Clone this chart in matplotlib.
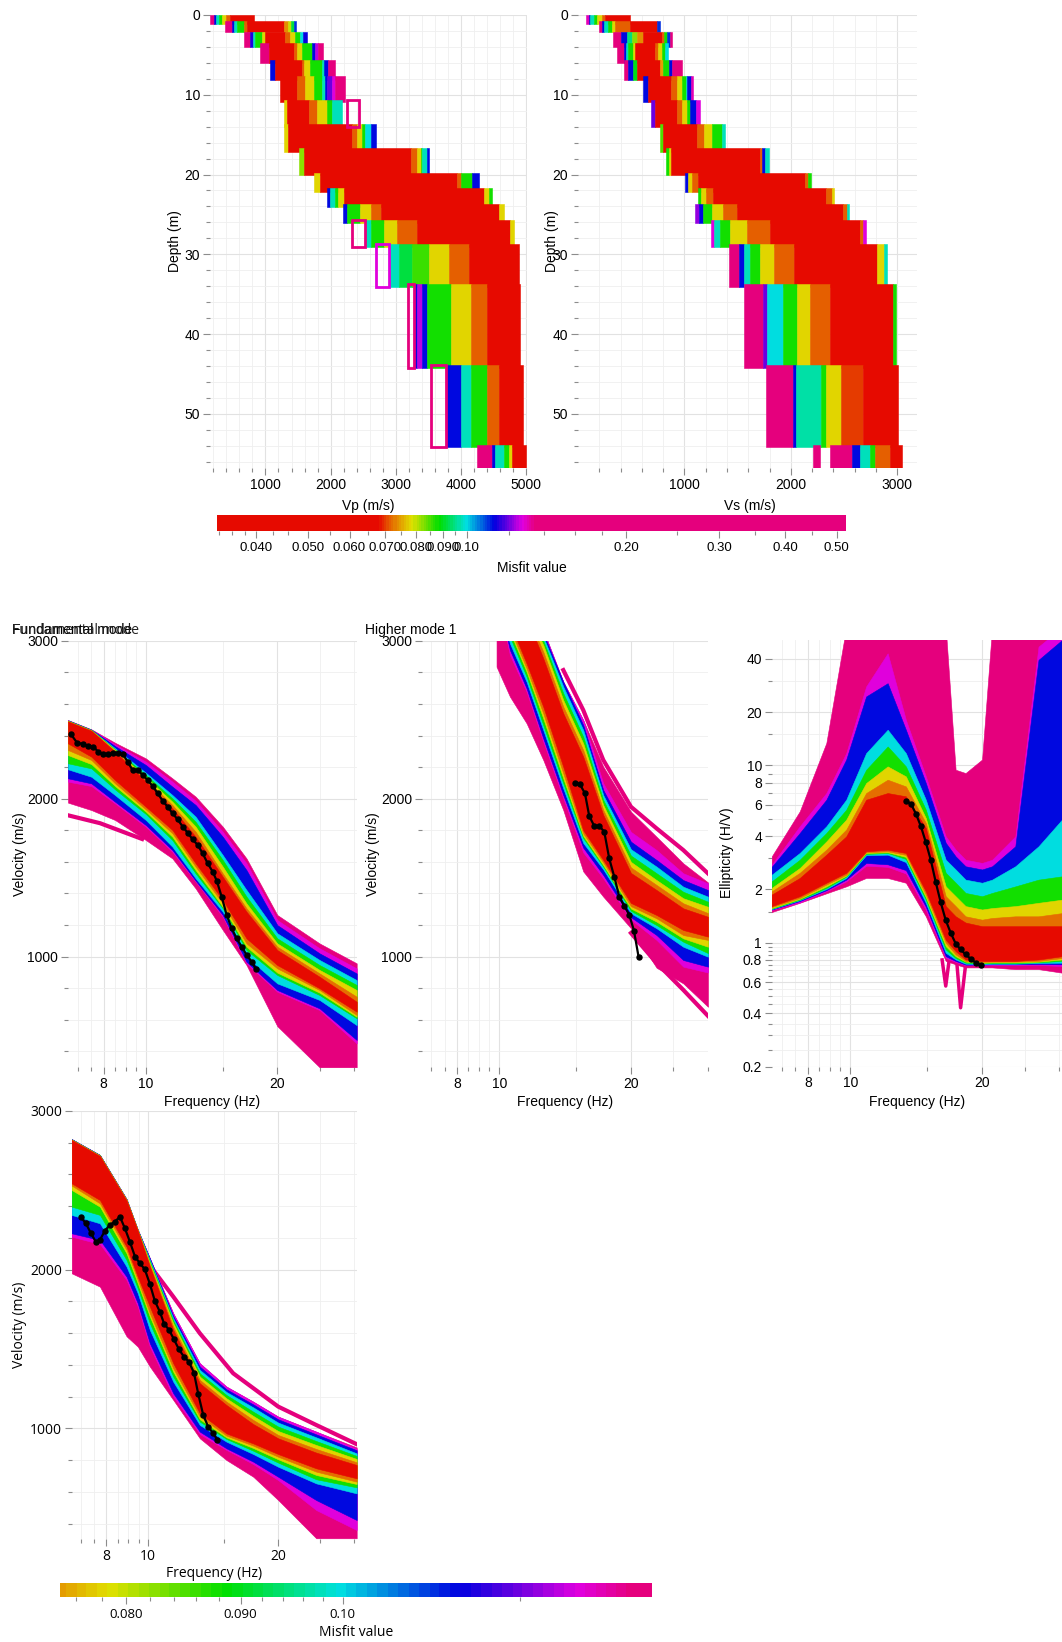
import numpy as np
import matplotlib
matplotlib.use('Agg')
import matplotlib.pyplot as plt
from matplotlib.colors import LinearSegmentedColormap, LogNorm
from matplotlib.patches import Rectangle
from matplotlib.ticker import FixedLocator, FixedFormatter, NullFormatter

plt.rcParams['font.family'] = ['Liberation Sans', 'DejaVu Sans']

W, H = 1062, 1642

# misfit palette (misfit value -> colour)
pal_misfit = [0.0337, 0.068, 0.0712, 0.0745, 0.0785, 0.0885, 0.0995, 0.1127, 0.1200, 0.1273, 0.1346, 0.521]
pal_colors = ['#e60a00', '#e60a00', '#e55a00', '#e49a00', '#e0e000', '#00df00', '#00e0e0',
              '#0000e0', '#7000e0', '#e000e0', '#e5007d', '#e5007d']

# misfit of each colour band in the dispersion / ellipticity panels (drawn worst first)
band_misfit = [0.30, 0.127, 0.1127, 0.0995, 0.088, 0.078, 0.0725, 0.05]

# ---- layered profiles (depth in m, velocities in m/s) ----
layer_top = [0.0, 0.7, 2.1, 3.55, 5.64, 7.64, 10.65, 13.66, 16.71, 19.76, 21.72, 23.68, 25.69, 28.74, 33.71, 43.86, 53.89]
layer_bot = [1.13, 2.09, 4.05, 6.06, 8.14, 10.86, 14.0, 17.13, 20.05, 22.14, 24.02, 26.02, 29.11, 34.13, 44.2, 54.22, 56.81]

vp_edges = [
    [156, 207, 243, 284, 335, 401, 463, 831],
    [386, 488, 524, 565, 667, 718, 1281, 1342, 1394, 1434, 1470],
    [667, 769, 810, 846, 949, 1000, 1307, 1383, 1460, 1537, 1578, 1639],
    [923, 1051, 1434, 1486, 1562, 1716, 1767, 1802, 1880],
    [1077, 1153, 1562, 1598, 1690, 1869, 1895, 1957, 2064],
    [1230, 1486, 1614, 1741, 1869, 1920, 1946, 2023, 2074, 2227],
    [1281, 1332, 1665, 1792, 1946, 2023, 2176],
    [1290, 1347, 2330, 2406, 2483, 2534, 2611, 2688],
    [1511, 1588, 3224, 3326, 3378, 3403, 3480, 3505],
    [1741, 1843, 3940, 3991, 4170, 4272],
    [1946, 1997, 2074, 2110, 2202, 4348, 4425, 4476],
    [2191, 2253, 2457, 2611, 2764, 4578, 4655],
    [2534, 2611, 2816, 3020, 3326, 4757, 4808],
    [2893, 3046, 3250, 3505, 3812, 4119, 4886],
    [3276, 3330, 3400, 3480, 3838, 4144, 4400, 4901],
    [3772, 4000, 4144, 4400, 4578, 4952],
    [4246, 4476, 4527, 4655, 4731, 4783, 4997],
]
vp_misfit = [
    [0.3, 0.112, 0.098, 0.088, 0.078, 0.072, 0.05],
    [0.3, 0.112, 0.098, 0.088, 0.072, 0.05, 0.074, 0.08, 0.092, 0.11],
    [0.3, 0.115, 0.098, 0.088, 0.078, 0.05, 0.072, 0.078, 0.088, 0.1, 0.113],
    [0.3, 0.05, 0.072, 0.078, 0.088, 0.112, 0.125, 0.3],
    [0.112, 0.05, 0.072, 0.078, 0.088, 0.098, 0.112, 0.3],
    [0.05, 0.072, 0.078, 0.088, 0.098, 0.112, 0.12, 0.128, 0.3],
    [0.078, 0.05, 0.072, 0.078, 0.088, 0.098],
    [0.078, 0.05, 0.072, 0.078, 0.088, 0.1, 0.112],
    [0.082, 0.05, 0.072, 0.078, 0.088, 0.098, 0.112],
    [0.078, 0.05, 0.072, 0.088, 0.112],
    [0.112, 0.098, 0.088, 0.078, 0.05, 0.078, 0.088],
    [0.112, 0.088, 0.078, 0.072, 0.05, 0.078],
    [0.098, 0.088, 0.078, 0.072, 0.05, 0.078],
    [0.098, 0.092, 0.086, 0.078, 0.072, 0.05],
    [0.112, 0.125, 0.112, 0.088, 0.078, 0.072, 0.05],
    [0.112, 0.098, 0.088, 0.072, 0.05],
    [0.3, 0.112, 0.098, 0.088, 0.078, 0.05],
]
# single high-misfit Vp profiles that show as open boxes
vp_box_top = [10.65, 25.69, 28.74, 33.71, 43.86]
vp_box_bot = [14.0, 29.11, 34.13, 44.2, 54.22]
vp_box_left = [2253, 2330, 2688, 3184, 3531]
vp_box_right = [2432, 2534, 2893, 3276, 3772]
vp_box_misfit = [0.3, 0.3, 0.128, 0.3, 0.3]

vs_edges = [
    [77, 99, 115, 146, 178, 225, 256, 491],
    [193, 225, 247, 278, 318, 350, 491, 741, 766],
    [331, 400, 457, 504, 551, 613, 786, 808, 833, 864, 880],
    [364, 436, 450, 473, 520, 536, 724, 755, 786, 818, 849],
    [436, 473, 520, 551, 770, 802, 855, 880, 980],
    [614, 658, 871, 933, 980, 1012, 1027, 1058, 1080],
    [689, 720, 933, 980, 1027, 1052, 1105, 1146],
    [767, 798, 1117, 1180, 1258, 1352, 1377],
    [829, 852, 876, 1707, 1729, 1754, 1795],
    [1005, 1030, 1067, 1130, 2132, 2163, 2188],
    [1123, 1155, 1202, 1264, 2328, 2391, 2406],
    [1101, 1133, 1173, 1258, 1367, 1492, 2494, 2525, 2550],
    [1252, 1274, 1336, 1430, 1587, 1806, 2651, 2682, 2707],
    [1415, 1509, 1556, 1619, 1713, 1838, 2026, 2808, 2871, 2902],
    [1564, 1742, 1780, 1930, 2055, 2180, 2368, 2962, 2984],
    [1764, 2021, 2052, 2287, 2334, 2475, 2678, 3007],
    [2207, 2270, 2364, 2573, 2652, 2746, 2793, 2934, 3043],
]
vs_misfit = [
    [0.13, 0.112, 0.098, 0.088, 0.078, 0.072, 0.05],
    [0.3, 0.112, 0.098, 0.088, 0.078, 0.072, 0.05, 0.11],
    [0.3, 0.112, 0.095, 0.082, 0.074, 0.05, 0.072, 0.088, 0.11, 0.3],
    [0.3, 0.112, 0.098, 0.088, 0.078, 0.05, 0.072, 0.078, 0.088, 0.1],
    [0.3, 0.112, 0.09, 0.05, 0.075, 0.088, 0.112, 0.3],
    [0.112, 0.05, 0.072, 0.078, 0.088, 0.098, 0.112, 0.13],
    [0.12, 0.05, 0.072, 0.078, 0.088, 0.112, 0.128],
    [0.085, 0.05, 0.072, 0.078, 0.088, 0.098],
    [0.088, 0.078, 0.05, 0.072, 0.112, 0.098],
    [0.112, 0.078, 0.072, 0.05, 0.072, 0.088],
    [0.088, 0.078, 0.072, 0.05, 0.072, 0.078],
    [0.122, 0.112, 0.088, 0.078, 0.072, 0.05, 0.072, 0.098],
    [0.128, 0.098, 0.088, 0.078, 0.072, 0.05, 0.072, 0.128],
    [0.3, 0.112, 0.098, 0.088, 0.078, 0.072, 0.05, 0.078, 0.098],
    [0.3, 0.12, 0.1, 0.088, 0.078, 0.072, 0.05, 0.088],
    [0.3, 0.112, 0.097, 0.088, 0.078, 0.07, 0.05],
    [0.3, np.nan, 0.3, 0.112, 0.098, 0.088, 0.072, 0.05],
]

# ---- fundamental mode (Hz, m/s) ----
fm_freq = [6.63, 7.5, 8.5, 10, 11.5, 13, 15, 17, 20, 25, 30.4]
fm_upper = [
    [2498, 2439, 2354, 2255, 2129, 2013, 1823, 1622, 1264, 1084, 958],
    [2496, 2437, 2344, 2234, 2108, 1987, 1791, 1591, 1232, 1053, 926],
    [2496, 2437, 2333, 2213, 2076, 1960, 1759, 1548, 1200, 1021, 894],
    [2494, 2435, 2319, 2164, 2023, 1886, 1643, 1422, 1148, 979, 852],
    [2494, 2435, 2312, 2150, 2002, 1854, 1612, 1380, 1116, 947, 821],
    [2491, 2432, 2308, 2135, 1981, 1823, 1570, 1337, 1084, 916, 789],
    [2491, 2432, 2302, 2122, 1960, 1791, 1527, 1306, 1063, 894, 747],
    [2489, 2430, 2297, 2108, 1939, 1759, 1506, 1285, 1042, 873, 715],
]
fm_lower = [
    [1975, 1928, 1865, 1738, 1622, 1432, 1169, 947, 560, 300, 300],
    [2108, 2080, 1970, 1822, 1664, 1475, 1253, 958, 778, 662, 451],
    [2129, 2097, 1981, 1833, 1675, 1481, 1264, 968, 789, 673, 473],
    [2186, 2139, 2023, 1865, 1696, 1496, 1285, 1000, 831, 726, 567],
    [2224, 2192, 2059, 1903, 1738, 1527, 1306, 1042, 884, 757, 610],
    [2276, 2219, 2080, 1918, 1759, 1548, 1316, 1063, 899, 772, 620],
    [2308, 2245, 2097, 1932, 1781, 1570, 1337, 1084, 926, 789, 631],
    [2350, 2266, 2118, 1949, 1802, 1591, 1359, 1116, 947, 800, 652],
]
fm_out_f = [6.63, 7.85, 9.8]
fm_out_v = [1895, 1845, 1745]
fm_obs_f = [6.73, 6.95, 7.18, 7.38, 7.57, 7.78, 7.98, 8.20, 8.42, 8.64, 8.85, 9.08, 9.32, 9.57, 9.83,
            10.09, 10.36, 10.64, 10.92, 11.21, 11.51, 11.82, 12.14, 12.46, 12.79, 13.14, 13.49,
            13.85, 14.22, 14.53, 14.91, 15.31, 15.72, 16.14, 16.57, 17.02, 17.47, 17.88]
fm_obs_v = [2409, 2355, 2346, 2333, 2329, 2297, 2283, 2281, 2287, 2287, 2283, 2234, 2181, 2181, 2150,
            2118, 2080, 2034, 1987, 1949, 1907, 1869, 1823, 1785, 1743, 1707, 1654,
            1591, 1538, 1481, 1380, 1264, 1179, 1116, 1063, 1010, 968, 920]

# ---- higher mode 1 ----
h1_freq = [9.86, 10.58, 11.55, 12.61, 14.01, 15.56, 17.29, 20.0, 22.89, 26.34, 30.0]
h1_upper = [
    [3300, 3300, 3270, 3067, 2740, 2498, 2203, 1918, 1759, 1591, 1470],
    [3300, 3300, 3260, 3067, 2740, 2498, 2097, 1790, 1675, 1528, 1464],
    [3300, 3300, 3250, 3046, 2740, 2466, 2055, 1728, 1612, 1485, 1422],
    [3300, 3300, 3230, 3025, 2709, 2435, 2023, 1680, 1570, 1443, 1380],
    [3300, 3300, 3210, 3000, 2667, 2392, 1992, 1640, 1528, 1411, 1348],
    [3300, 3300, 3190, 2973, 2624, 2350, 1960, 1600, 1485, 1370, 1316],
    [3300, 3300, 3170, 2930, 2582, 2308, 1928, 1565, 1454, 1338, 1276],
    [3300, 3300, 3150, 2888, 2540, 2266, 1897, 1530, 1422, 1306, 1253],
]
h1_lower = [
    [2835, 2646, 2477, 2245, 1928, 1540, 1380, 1180, 930, 831, 683],
    [3300, 2909, 2677, 2361, 2002, 1660, 1496, 1235, 1106, 937, 900],
    [3300, 2941, 2698, 2382, 2023, 1690, 1517, 1250, 1137, 979, 937],
    [3300, 2983, 2740, 2435, 2065, 1720, 1553, 1275, 1180, 1063, 1000],
    [3300, 3025, 2772, 2466, 2097, 1750, 1570, 1290, 1200, 1095, 1023],
    [3300, 3057, 2804, 2508, 2129, 1765, 1580, 1305, 1222, 1116, 1063],
    [3300, 3078, 2825, 2540, 2160, 1780, 1596, 1320, 1243, 1137, 1106],
    [3300, 3110, 2856, 2582, 2202, 1800, 1612, 1340, 1264, 1169, 1127],
]
h1_out_f = [14.01, 15.56, 17.29, 20.0, 22.89, 26.34, 30.0]
h1_out_v = [2814, 2561, 2245, 1949, 1812, 1675, 1527]
h1_out2_f = [20.0, 22.89, 26.34, 30.0]
h1_out2_v = [1150, 960, 790, 625]
h1_obs_f = [14.90, 15.29, 15.70, 16.06, 16.49, 16.93, 17.38, 17.84, 18.32, 18.81, 19.31, 19.83, 20.32, 20.83]
h1_obs_v = [2097, 2091, 2034, 1890, 1827, 1827, 1791, 1622, 1506, 1380, 1321, 1264, 1165, 996]

# ---- ellipticity (H/V) ----
el_freq = [6.62, 7.67, 8.82, 9.79, 10.87, 12.17, 13.39, 14.87, 16.51, 17.39, 18.32, 19.98, 21.06, 23.79, 26.87, 30.4]
el_upper = [
    [3.07, 5.51, 13.4, 60, 60, 60, 60, 60, 60, 9.46, 9.06, 10.8, 60, 60, 60, 60],
    [2.76, 4.54, 6.99, 11.74, 27.9, 42.9, 18.1, 8.68, 3.98, 3.35, 2.94, 2.82, 2.94, 3.98, 46.8, 60],
    [2.68, 4.16, 6.41, 10.8, 24.5, 29.1, 15.9, 7.96, 3.66, 3.07, 2.70, 2.59, 2.70, 3.50, 39.4, 51],
    [2.42, 3.21, 4.54, 6.41, 11.74, 15.9, 11.74, 6.41, 2.94, 2.59, 2.27, 2.18, 2.27, 2.70, 3.50, 4.95],
    [2.22, 2.94, 4.16, 5.63, 9.46, 12.8, 9.88, 5.63, 2.48, 2.18, 1.91, 1.83, 1.91, 2.08, 2.27, 2.37],
    [2.04, 2.64, 3.73, 4.95, 7.96, 9.88, 8.68, 5.05, 2.08, 1.83, 1.61, 1.54, 1.57, 1.61, 1.68, 1.75],
    [1.95, 2.48, 3.35, 4.35, 6.99, 8.31, 7.62, 4.74, 1.83, 1.61, 1.41, 1.35, 1.38, 1.41, 1.41, 1.47],
    [1.87, 2.32, 3.14, 3.98, 6.41, 6.99, 6.70, 4.44, 1.61, 1.41, 1.30, 1.24, 1.24, 1.24, 1.24, 1.24],
]
el_lower = [
    [1.49, 1.68, 1.90, 2.08, 2.32, 2.32, 2.18, 1.41, 0.79, 0.756, 0.726, 0.726, 0.726, 0.71, 0.71, 0.678],
    [1.53, 1.69, 1.95, 2.22, 2.72, 2.68, 2.46, 1.53, 0.82, 0.78, 0.747, 0.747, 0.747, 0.747, 0.75, 0.739],
    [1.54, 1.72, 1.98, 2.27, 2.82, 2.77, 2.57, 1.60, 0.84, 0.79, 0.753, 0.753, 0.756, 0.756, 0.759, 0.756],
    [1.55, 1.74, 2.01, 2.32, 3.12, 3.14, 2.85, 1.68, 0.878, 0.805, 0.762, 0.759, 0.762, 0.762, 0.769, 0.772],
    [1.56, 1.75, 2.04, 2.36, 3.17, 3.21, 2.97, 1.75, 0.917, 0.82, 0.772, 0.766, 0.769, 0.769, 0.776, 0.79],
    [1.57, 1.77, 2.08, 2.39, 3.21, 3.24, 3.05, 1.81, 0.957, 0.84, 0.783, 0.772, 0.776, 0.776, 0.783, 0.805],
    [1.59, 1.79, 2.13, 2.42, 3.24, 3.28, 3.13, 1.87, 1.00, 0.86, 0.79, 0.78, 0.783, 0.783, 0.79, 0.82],
    [1.61, 1.83, 2.18, 2.48, 3.28, 3.35, 3.21, 1.95, 1.04, 0.897, 0.805, 0.79, 0.79, 0.79, 0.805, 0.84],
]
el_spike1_f = [16.2, 16.51, 16.8]
el_spike1_e = [0.80, 0.57, 0.79]
el_spike2_f = [17.5, 17.85, 18.3]
el_spike2_e = [0.77, 0.43, 0.73]
el_obs_f = [13.39, 13.75, 14.11, 14.49, 14.87, 15.27, 15.67, 16.08, 16.51, 16.94, 17.39, 17.85, 18.32, 18.81, 19.31, 19.82]
el_obs_e = [6.27, 6.09, 5.35, 4.54, 3.69, 2.92, 2.19, 1.69, 1.34, 1.14, 0.99, 0.917, 0.86, 0.812, 0.772, 0.745]

# ---- lower-left dispersion panel ----
l4_freq = [6.65, 7.73, 8.91, 9.46, 10.09, 11.43, 13.17, 15.18, 17.51, 20.0, 24.5, 30.4]
l4_upper = [
    [2823, 2723, 2445, 2252, 2071, 1725, 1410, 1263, 1168, 1074, 979, 880],
    [2823, 2723, 2445, 2252, 2071, 1725, 1410, 1263, 1168, 1074, 979, 872],
    [2823, 2723, 2445, 2252, 2071, 1708, 1389, 1246, 1151, 1057, 962, 862],
    [2821, 2721, 2442, 2250, 2061, 1693, 1368, 1229, 1132, 1036, 943, 842],
    [2821, 2721, 2442, 2250, 2050, 1679, 1347, 1210, 1105, 1011, 920, 826],
    [2819, 2719, 2440, 2248, 2040, 1662, 1326, 1189, 1078, 983, 895, 807],
    [2819, 2719, 2440, 2248, 2029, 1641, 1305, 1168, 1053, 958, 870, 786],
    [2817, 2716, 2436, 2245, 2019, 1620, 1284, 1147, 1027, 937, 847, 769],
]
l4_lower = [
    [1977, 1893, 1580, 1515, 1389, 1179, 937, 800, 695, 548, 307, 307],
    [2208, 2162, 1935, 1767, 1515, 1200, 964, 864, 775, 674, 485, 359],
    [2229, 2187, 1956, 1788, 1536, 1221, 979, 874, 790, 695, 548, 422],
    [2345, 2292, 2019, 1851, 1620, 1294, 1021, 916, 838, 758, 653, 590],
    [2397, 2345, 2061, 1882, 1662, 1326, 1042, 933, 859, 784, 679, 628],
    [2502, 2397, 2103, 1914, 1704, 1357, 1057, 943, 876, 805, 706, 649],
    [2530, 2418, 2124, 1935, 1725, 1378, 1074, 954, 891, 821, 727, 664],
    [2544, 2439, 2145, 1956, 1767, 1410, 1095, 968, 905, 838, 748, 685],
]
l4_out_f = [10.27, 11.43, 13.17, 15.73, 20.0, 24.5, 30.4]
l4_out_v = [1998, 1830, 1599, 1347, 1137, 1021, 900]
l4_obs_f = [6.99, 7.17, 7.37, 7.56, 7.73, 7.94, 8.15, 8.37, 8.60, 8.83, 9.07, 9.32, 9.57, 9.82, 10.09,
            10.36, 10.64, 10.89, 11.18, 11.47, 11.78, 12.09, 12.42, 12.76, 13.06, 13.41, 13.77, 14.14, 14.47]
l4_obs_v = [2330, 2292, 2229, 2176, 2187, 2246, 2282, 2302, 2334, 2261, 2176, 2082, 2040, 2002, 1910,
            1803, 1735, 1658, 1620, 1561, 1498, 1452, 1420, 1351, 1216, 1084, 1010, 968, 927]

# colour bar ticks
cb_top_ticks = [0.04, 0.05, 0.06, 0.07, 0.08, 0.09, 0.10, 0.20, 0.30, 0.40, 0.50]
cb_top_labels = ['0.040', '0.050', '0.060', '0.070', '0.080', '0.090', '0.10', '0.20', '0.30', '0.40', '0.50']
cb_top_minor = [0.034, 0.036, 0.038, 0.043, 0.046, 0.055, 0.065, 0.075, 0.085, 0.095,
                0.12, 0.14, 0.16, 0.18, 0.25, 0.35, 0.45]
cb_bot_ticks = [0.08, 0.09, 0.10]
cb_bot_labels = ['0.080', '0.090', '0.10']
cb_bot_minor = [0.076, 0.078, 0.082, 0.084, 0.086, 0.088, 0.092, 0.094, 0.096, 0.098, 0.12]

# ---------------------------------------------------------------------------
lo, hi = pal_misfit[0], pal_misfit[-1]
pos = [(np.log10(m) - np.log10(lo)) / (np.log10(hi) - np.log10(lo)) for m in pal_misfit]
cmap = LinearSegmentedColormap.from_list('misfit', list(zip(pos, pal_colors)))
norm = LogNorm(lo, hi)


def mcolor(m):
    return cmap(norm(m))


fig = plt.figure(figsize=(W / 100, H / 100), dpi=100)


def add_ax(x0, y0, x1, y1):
    return fig.add_axes([x0 / W, 1 - y1 / H, (x1 - x0) / W, (y1 - y0) / H])


def ftext(x, y, s, font='Liberation Sans', size=10, **kw):
    fig.text(x / W, 1 - y / H, s, fontsize=size, family=font, va='center', **kw)


def finish(ax, font='Liberation Sans'):
    for s in ax.spines.values():
        s.set_visible(False)
    ax.tick_params(which='major', direction='out', length=5, width=0.8, color='#8c8c8c',
                   labelsize=10, pad=2, labelfontfamily=font)
    ax.tick_params(which='minor', direction='out', length=3, width=0.8, color='#8c8c8c')
    ax.grid(which='major', color='#e2e2e2', lw=0.8)
    ax.grid(which='minor', color='#efefef', lw=0.6)
    ax.set_axisbelow(True)


def freq_axis(ax, f0, f1):
    ax.set_xscale('log')
    ax.set_xlim(f0, f1)
    ax.xaxis.set_major_locator(FixedLocator([8, 10, 20]))
    ax.xaxis.set_major_formatter(FixedFormatter(['8', '10', '20']))
    ax.xaxis.set_minor_locator(FixedLocator([7, 7.5, 8.5, 9, 9.5, 15, 25, 30]))
    ax.xaxis.set_minor_formatter(NullFormatter())


def vel_axis(ax):
    ax.set_ylim(300, 3000)
    ax.set_yticks([1000, 2000, 3000])
    ax.set_yticks([v for v in range(400, 3000, 200) if v % 1000], minor=True)


def bands(ax, f, upper, lower):
    for k, m in enumerate(band_misfit):
        c = mcolor(m)
        ax.fill_between(f, lower[k], upper[k], color=c, ec=c, lw=0.4, zorder=2)


def observed(ax, f, v):
    ax.plot(f, v, color='black', lw=1.6, marker='o', ms=3.6, zorder=5)


def profile(ax, edges, misfit, xmax, xmajor):
    for top, bot, e, ms in zip(layer_top, layer_bot, edges, misfit):
        for i, m in enumerate(ms):
            if np.isnan(m):
                continue
            c = mcolor(m)
            ax.barh((top + bot) / 2, e[i + 1] - e[i], left=e[i], height=bot - top,
                    color=c, ec=c, lw=0.4, zorder=2)
    ax.set_ylim(56.8, 0)
    ax.set_yticks([0, 10, 20, 30, 40, 50])
    ax.set_yticks([d for d in range(2, 57, 2) if d % 10], minor=True)
    ax.set_xticks(xmajor)
    ax.set_xticks([v for v in range(200, xmax, 200) if v % 1000], minor=True)
    finish(ax)


# ---- Vp / Vs profiles ----
ax_vp = add_ax(210, 15, 527, 468)
profile(ax_vp, vp_edges, vp_misfit, 5000, [1000, 2000, 3000, 4000, 5000])
for t, b, l, r, m in zip(vp_box_top, vp_box_bot, vp_box_left, vp_box_right, vp_box_misfit):
    ax_vp.add_patch(Rectangle((l, t), r - l, b - t, fill=False, ec=mcolor(m), lw=2.0, zorder=3))
ax_vp.set_xlim(150, 5010)

ax_vs = add_ax(578, 15, 917, 468)
profile(ax_vs, vs_edges, vs_misfit, 3200, [1000, 2000, 3000])
ax_vs.set_xlim(0, 3185)

ftext(175, 241.5, 'Depth (m)', rotation=90, ha='center')
ftext(552, 241.5, 'Depth (m)', rotation=90, ha='center')
ftext(368.5, 506, 'Vp (m/s)', ha='center')
ftext(750, 506, 'Vs (m/s)', ha='center')


def colorbar(box, c0, c1, major, labels, minor, font, size):
    cax = add_ax(*box)
    edges = np.geomspace(c0, c1, 600)
    mids = np.sqrt(edges[:-1] * edges[1:])
    cax.pcolormesh(edges, [0, 1], mids[np.newaxis, :], cmap=cmap, norm=norm, shading='flat')
    cax.set_xscale('log')
    cax.set_xlim(c0, c1)
    cax.set_ylim(0, 1)
    cax.set_yticks([])
    cax.xaxis.set_major_locator(FixedLocator(major))
    cax.xaxis.set_major_formatter(FixedFormatter(labels))
    cax.xaxis.set_minor_locator(FixedLocator(minor))
    cax.xaxis.set_minor_formatter(NullFormatter())
    for s in cax.spines.values():
        s.set_visible(False)
    cax.tick_params(which='major', direction='out', length=5, width=0.8, color='#8c8c8c',
                    labelsize=size, pad=3, labelfontfamily=font)
    cax.tick_params(which='minor', direction='out', length=3, width=0.8, color='#8c8c8c')
    return cax


colorbar((217, 515, 846, 531), 0.0337, 0.521, cb_top_ticks, cb_top_labels, cb_top_minor,
         'Liberation Sans', 9.5)
ftext(531.5, 568, 'Misfit value', ha='center')

# ---- fundamental mode ----
ax_fm = add_ax(68, 640.7, 356.7, 1067.3)
bands(ax_fm, fm_freq, fm_upper, fm_lower)
ax_fm.plot(fm_out_f, fm_out_v, color=mcolor(0.3), lw=3, zorder=1.9)
observed(ax_fm, fm_obs_f, fm_obs_v)
freq_axis(ax_fm, 6.63, 30.4)
vel_axis(ax_fm)
finish(ax_fm)
ftext(12, 630, 'Fundamental mode')
ftext(12, 630, 'Fundamental mode', font='Open Sans', color='#222222')
ftext(20, 854, 'Velocity (m/s)', rotation=90, ha='center')
ftext(212.4, 1102, 'Frequency (Hz)', ha='center')

# ---- higher mode 1 ----
ax_h1 = add_ax(421.7, 640.7, 708.3, 1067.3)
bands(ax_h1, h1_freq, h1_upper, h1_lower)
ax_h1.plot(h1_out_f, h1_out_v, color=mcolor(0.3), lw=3, zorder=1.9)
ax_h1.plot(h1_out2_f, h1_out2_v, color=mcolor(0.3), lw=3, zorder=1.9)
observed(ax_h1, h1_obs_f, h1_obs_v)
freq_axis(ax_h1, 6.65, 30.05)
vel_axis(ax_h1)
finish(ax_h1)
ftext(365, 630, 'Higher mode 1')
ftext(373, 854, 'Velocity (m/s)', rotation=90, ha='center')
ftext(565, 1102, 'Frequency (Hz)', ha='center')

# ---- ellipticity ----
ax_el = add_ax(771.7, 640, 1062, 1066.7)
ax_el.set_yscale('log')
bands(ax_el, el_freq, el_upper, el_lower)
ax_el.plot(el_spike1_f, el_spike1_e, color=mcolor(0.3), lw=2.5, zorder=1.9)
ax_el.plot(el_spike2_f, el_spike2_e, color=mcolor(0.3), lw=2.5, zorder=1.9)
observed(ax_el, el_obs_f, el_obs_e)
freq_axis(ax_el, 6.62, 30.4)
ax_el.set_ylim(0.2, 51)
el_major = [0.2, 0.4, 0.6, 0.8, 1, 2, 4, 6, 8, 10, 20, 40]
ax_el.yaxis.set_major_locator(FixedLocator(el_major))
ax_el.yaxis.set_major_formatter(FixedFormatter([f'{v:g}' for v in el_major]))
ax_el.yaxis.set_minor_locator(FixedLocator([0.25, 0.3, 0.35, 0.45, 0.5, 0.55, 0.65, 0.7, 0.75, 0.85, 0.9,
                                            0.95, 1.5, 3, 5, 7, 9, 15, 30]))
ax_el.yaxis.set_minor_formatter(NullFormatter())
finish(ax_el)
ftext(726.7, 853, 'Ellipticity (H/V)', rotation=90, ha='center')
ftext(917, 1102, 'Frequency (Hz)', ha='center')

# ---- lower-left panel ----
ax_l4 = add_ax(71.7, 1111, 356.7, 1539.4)
bands(ax_l4, l4_freq, l4_upper, l4_lower)
ax_l4.plot(l4_out_f, l4_out_v, color=mcolor(0.3), lw=3, zorder=1.9)
observed(ax_l4, l4_obs_f, l4_obs_v)
freq_axis(ax_l4, 6.65, 30.4)
vel_axis(ax_l4)
finish(ax_l4, 'Open Sans')
ftext(20, 1325, 'Velocity (m/s)', font='Open Sans', rotation=90, ha='center')
ftext(214, 1573, 'Frequency (Hz)', font='Open Sans', ha='center')

colorbar((59.7, 1583, 652, 1597), 0.0747, 0.1375, cb_bot_ticks, cb_bot_labels, cb_bot_minor,
         'Open Sans', 9.5)
ftext(356, 1632, 'Misfit value', font='Open Sans', ha='center')

fig.savefig('out.png', dpi=100)
